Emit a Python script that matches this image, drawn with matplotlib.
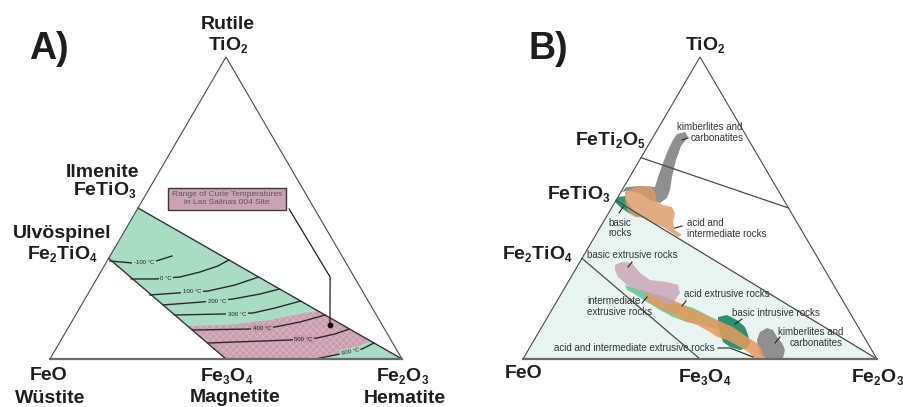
import numpy as np
import matplotlib
matplotlib.use("Agg")
import matplotlib.pyplot as plt
from matplotlib.patches import Polygon
from matplotlib.lines import Line2D
import matplotlib._mathtext as _mt

_mt.SHRINK_FACTOR = 0.6

plt.rcParams['font.family'] = ['Liberation Sans', 'DejaVu Sans']
plt.rcParams['mathtext.fontset'] = 'custom'
plt.rcParams['mathtext.rm'] = 'Liberation Sans'
plt.rcParams['mathtext.bf'] = 'Liberation Sans:bold'
plt.rcParams['mathtext.it'] = 'Liberation Sans:italic'
plt.rcParams['hatch.linewidth'] = 0.45

# ---------------------------------------------------------------------------
# DATA  (molar fractions; each point = (TiO2, Fe2O3); FeO = 1 - TiO2 - Fe2O3)
# ---------------------------------------------------------------------------
# Panel A: titanomagnetite - titanohematite field
band_tio2 = [1/3, 0.5, 0.0, 0.0]          # Fe2TiO4, FeTiO3, Fe2O3, Fe3O4
band_fe2o3 = [0.0, 0.0, 1.0, 0.5]

# range of Curie temperatures (pink) : upper and lower boundaries
pink_top_tio2 = [0.109, 0.113, 0.129, 0.149, 0.159]
pink_top_fe2o3 = [0.337, 0.455, 0.560, 0.636, 0.682]
pink_bot_tio2 = [0.000, 0.010, 0.030, 0.060]
pink_bot_fe2o3 = [0.696, 0.790, 0.837, 0.881]

# Curie isotherms
iso_labels = ['-100 °C', '0 °C', '100 °C', '200 °C', '300 °C', '400 °C', '500 °C', '600 °C']
iso_tio2 = [
    [0.3245, 0.318, 0.318, 0.341],
    [0.265, 0.265, 0.2715, 0.288, 0.308, 0.328],
    [0.212, 0.2185, 0.225, 0.245, 0.2715],
    [0.179, 0.1887, 0.1987, 0.2152, 0.2318],
    [0.1457, 0.149, 0.1523, 0.1689, 0.192],
    [0.096, 0.0993, 0.106, 0.1225, 0.1457],
    [0.053, 0.0629, 0.0695, 0.0828, 0.0993],
    [0.0, 0.0166, 0.0331, 0.053],
]
iso_fe2o3 = [
    [0.008, 0.074, 0.125, 0.176],
    [0.098, 0.166, 0.233, 0.282, 0.323, 0.344],
    [0.178, 0.252, 0.336, 0.403, 0.457],
    [0.2316, 0.3375, 0.4205, 0.489, 0.536],
    [0.282, 0.414, 0.5005, 0.5548, 0.616],
    [0.358, 0.5185, 0.586, 0.649, 0.709],
    [0.4225, 0.650, 0.724, 0.768, 0.801],
    [0.753, 0.8157, 0.8698, 0.894],
]
iso_label_tio2 = [0.318, 0.268, 0.222, 0.192, 0.149, 0.1026, 0.0662, 0.0232]
iso_label_fe2o3 = [0.108, 0.1955, 0.292, 0.378, 0.457, 0.551, 0.686, 0.841]
iso_label_rot = [0, 0, 0, 0, 0, 0, 0, 12]
iso_in_pink = [False, False, False, False, False, True, True, False]

# Las Salinas 004 site point and leader (box corner, knee, site)
site_tio2 = [0.4967, 0.2715, 0.1126]
site_fe2o3 = [0.431, 0.660, 0.739]

# Panel B: tie lines (start, end)
tie_tio2 = [[2/3, 0.5], [0.525, 0.0], [1/3, 0.0]]       # FeTi2O5-Fe2TiO5, FeTiO3-Fe2O3, Fe2TiO4-Fe3O4
tie_fe2o3 = [[0.0, 0.5], [0.0, 1.0], [0.0, 0.5]]
pale_tio2 = [0.0, 0.525, 0.0]
pale_fe2o3 = [0.0, 0.0, 1.0]

# rock fields
kimb_up_tio2 = [0.7252, 0.745, 0.7517, 0.7351, 0.7053, 0.659, 0.6026, 0.5596, 0.5331, 0.5166,
                0.5265, 0.5497, 0.5563, 0.553, 0.5695, 0.5728, 0.5695, 0.6026, 0.649, 0.692]
kimb_up_fe2o3 = [0.0611, 0.0625, 0.0818, 0.0986, 0.0937, 0.1027, 0.1196, 0.1355, 0.1402, 0.1287,
                 0.0956, 0.0557, 0.0185, 0.0032, 0.0062, 0.0441, 0.0881, 0.0801, 0.071, 0.0636]
acid_int_tio2 = [0.553, 0.5695, 0.5728, 0.553, 0.5199, 0.5099, 0.5033, 0.4834, 0.4536, 0.4272,
                 0.4106, 0.404, 0.4172, 0.4371, 0.4503, 0.4669, 0.4735, 0.4934, 0.5265]
acid_int_fe2o3 = [0.0116, 0.0372, 0.0724, 0.0964, 0.1185, 0.1405, 0.1692, 0.1877, 0.1969, 0.2158,
                  0.2439, 0.2359, 0.2123, 0.177, 0.142, 0.1056, 0.0739, 0.0471, 0.0249]
basic_tio2 = [0.5364, 0.5397, 0.5166, 0.4934, 0.4735, 0.4702, 0.4868, 0.5033, 0.5199]
basic_fe2o3 = [0.0, 0.0182, 0.0383, 0.064, 0.0937, 0.0869, 0.0504, 0.0223, 0.0]
bas_ext_tio2 = [0.3113, 0.3212, 0.3179, 0.2848, 0.2616, 0.255, 0.245, 0.2185, 0.1854, 0.1788,
                0.202, 0.2185, 0.2285, 0.245, 0.2715, 0.2947]
bas_ext_fe2o3 = [0.1043, 0.1191, 0.1489, 0.1881, 0.228, 0.2793, 0.3154, 0.3342, 0.331, 0.3174,
                 0.2775, 0.241, 0.2078, 0.1713, 0.1326, 0.1125]
int_ext_tio2 = [0.245, 0.2285, 0.2119, 0.1854, 0.1689, 0.1457, 0.1291, 0.106,
                0.096, 0.1126, 0.1225, 0.1391, 0.1623, 0.1887, 0.2185, 0.2285]
int_ext_fe2o3 = [0.1656, 0.2163, 0.281, 0.3423, 0.3958, 0.447, 0.4834, 0.5035,
                 0.5, 0.4522, 0.402, 0.3542, 0.3059, 0.2559, 0.2014, 0.1796]
acid_ext_tio2 = [0.2185, 0.202, 0.1854, 0.1623, 0.1391, 0.1291, 0.106, 0.0728, 0.053, 0.0298, 0.0,
                 0.0, 0.0199, 0.0397, 0.0629, 0.0728, 0.0894, 0.1126, 0.1291, 0.1523, 0.1722, 0.1887]
acid_ext_fe2o3 = [0.2353, 0.3058, 0.3508, 0.3991, 0.4587, 0.4834, 0.5402, 0.5964, 0.6345, 0.6602, 0.6808,
                  0.6525, 0.6312, 0.5931, 0.5448, 0.5116, 0.4835, 0.4352, 0.3874, 0.3391, 0.2924, 0.2587]
bas_int_tio2 = [0.1391, 0.1457, 0.1291, 0.106, 0.0795, 0.053, 0.0364, 0.0298, 0.0397, 0.0563, 0.0861, 0.1126]
bas_int_fe2o3 = [0.4813, 0.5035, 0.5399, 0.5741, 0.5959, 0.6147, 0.6146, 0.5981, 0.5648, 0.5369, 0.5135, 0.4945]
kimb_lo_tio2 = [0.0894, 0.1026, 0.096, 0.0728, 0.053, 0.0298, 0.0033, 0.0, 0.0, 0.0132, 0.0397, 0.0629]
kimb_lo_fe2o3 = [0.6248, 0.638, 0.6582, 0.6811, 0.7051, 0.7252, 0.7328, 0.7175, 0.6893, 0.6629, 0.6439, 0.6295]

# ---------------------------------------------------------------------------
W, H = 904, 407
SQ = np.sqrt(3) / 2


def tern(t, h):
    t = np.asarray(t, float)
    h = np.asarray(h, float)
    return h + t / 2, t * SQ


def tri_axes(fig, ax_left_px, ax_w_px, x0px, x1px, top_px=57, bot_px=359):
    ax = fig.add_axes([ax_left_px / W, 0, ax_w_px / W, 1])
    sx = x1px - x0px
    sy = (bot_px - top_px) / SQ
    ax.set_xlim((ax_left_px - x0px) / sx, (ax_left_px + ax_w_px - x0px) / sx)
    ax.set_ylim(-(H - bot_px) / sy, bot_px / sy)
    ax.axis('off')
    return ax


def poly(ax, t, h, **kw):
    x, y = tern(t, h)
    p = Polygon(np.column_stack([x, y]), closed=True, **kw)
    ax.add_patch(p)
    return p


def line(ax, t, h, **kw):
    x, y = tern(t, h)
    ax.plot(x, y, **kw)


def ptxt(px, py, s, **kw):
    return fig.text(px / W, 1 - py / H, s, **kw)


def pline(xs, ys, **kw):
    fig.add_artist(Line2D(np.array(xs) / W, 1 - np.array(ys) / H, transform=fig.transFigure, **kw))


fig = plt.figure(figsize=(W / 100, H / 100), dpi=100)
fig.patch.set_facecolor('white')

EDGE = '#4a4a4a'
GREEN_A = '#a9dcc4'
PINK_A = '#c99cae'

# ----------------------------- Panel A -------------------------------------
axA = tri_axes(fig, 0, 452, 50, 402)
poly(axA, band_tio2, band_fe2o3, facecolor=GREEN_A, edgecolor='none', zorder=1)
pt = list(pink_top_tio2) + list(pink_bot_tio2[::-1]) + [0.0]
ph = list(pink_top_fe2o3) + list(pink_bot_fe2o3[::-1]) + [0.5]
poly(axA, pt, ph, facecolor=PINK_A, edgecolor='#dbbcc8', hatch='xxxxx', lw=0, zorder=2)
for k in range(len(iso_labels)):
    line(axA, iso_tio2[k], iso_fe2o3[k], color='#2a2a2a', lw=1.0, zorder=3)
    x, y = tern(iso_label_tio2[k], iso_label_fe2o3[k])
    axA.text(x, y, iso_labels[k], fontsize=4.3, color='#222222', ha='center', va='center',
             rotation=iso_label_rot[k], zorder=4,
             bbox=dict(boxstyle='square,pad=0.25', fc=PINK_A if iso_in_pink[k] else GREEN_A, ec='none'))
# band outline
line(axA, [band_tio2[1], band_tio2[2]], [band_fe2o3[1], band_fe2o3[2]], color='#333333', lw=1.0, zorder=5)
line(axA, [band_tio2[0], band_tio2[3]], [band_fe2o3[0], band_fe2o3[3]], color='#333333', lw=1.0, zorder=5)
# triangle
line(axA, [0, 1, 0], [1, 0, 0], color=EDGE, lw=0.8, zorder=5)
line(axA, [0, 0], [0, 1], color='#6a6a6a', lw=1.6, zorder=5)
# site and leader
line(axA, site_tio2, site_fe2o3, color='#222222', lw=0.9, zorder=6)
sx_, sy_ = tern(site_tio2[-1], site_fe2o3[-1])
axA.plot(sx_, sy_, 'o', ms=3.2, color='#111111', zorder=7)
ptxt(227, 198.5, 'Range of Curie Temperatures\nin Las Salinas 004 Site', fontsize=6.0,
     color='#5a5a5a', ha='center', va='center', linespacing=1.1, zorder=8,
     bbox=dict(boxstyle='square,pad=0.45', fc='#c9a2b3', ec='#3a3a3a', lw=1.0))

BIG = dict(fontsize=14, color='#1e1e1e', ha='center', va='baseline')
ptxt(49, 59, 'A)', fontsize=27, fontweight='bold', color='#1e1e1e', ha='center', va='baseline')
ptxt(228, 29, 'Rutile', fontweight='bold', **BIG)
ptxt(228, 50, r'$\mathbf{TiO_2}$', **BIG)
ptxt(103, 177, 'Ilmenite', fontweight='bold', **BIG)
ptxt(105, 195, r'$\mathbf{FeTiO_3}$', **BIG)
ptxt(62, 238, 'Ulvöspinel', fontweight='bold', **BIG)
ptxt(62, 259, r'$\mathbf{Fe_2TiO_4}$', **BIG)
ptxt(49, 380, 'FeO', fontweight='bold', **BIG)
ptxt(50, 403, 'Wüstite', fontweight='bold', **BIG)
ptxt(227, 381, r'$\mathbf{Fe_3O_4}$', **BIG)
ptxt(235, 402, 'Magnetite', fontweight='bold', **BIG)
ptxt(403, 381, r'$\mathbf{Fe_2O_3}$', **BIG)
ptxt(405, 403, 'Hematite', fontweight='bold', **BIG)

# ----------------------------- Panel B -------------------------------------
axB = tri_axes(fig, 452, 452, 523, 877)
poly(axB, pale_tio2, pale_fe2o3, facecolor='#e9f4f1', edgecolor='none', zorder=1)
for k in range(len(tie_tio2)):
    line(axB, tie_tio2[k], tie_fe2o3[k], color=EDGE, lw=0.9, zorder=6)
line(axB, [0, 1, 0], [1, 0, 0], color=EDGE, lw=0.8, zorder=6)
line(axB, [0, 0], [0, 1], color='#6a6a6a', lw=1.6, zorder=6)

poly(axB, basic_tio2, basic_fe2o3, facecolor='#2f9676', edgecolor='none', zorder=2)
poly(axB, kimb_up_tio2, kimb_up_fe2o3, facecolor='#8f8f8f', edgecolor='none', zorder=3)
poly(axB, acid_int_tio2, acid_int_fe2o3, facecolor='#dc9a68', edgecolor='none', alpha=0.82, zorder=4)

poly(axB, int_ext_tio2, int_ext_fe2o3, facecolor='#74c9a0', edgecolor='none', zorder=2)
poly(axB, bas_int_tio2, bas_int_fe2o3, facecolor='#2f9070', edgecolor='none', zorder=2.5)
poly(axB, kimb_lo_tio2, kimb_lo_fe2o3, facecolor='#8f8f8f', edgecolor='none', zorder=2.6)
poly(axB, acid_ext_tio2, acid_ext_fe2o3, facecolor='#e89a5c', edgecolor='none', alpha=0.85, zorder=3)
poly(axB, bas_ext_tio2, bas_ext_fe2o3, facecolor='#c6a2b4', edgecolor='none', alpha=0.8, zorder=4)

ptxt(548, 59, 'B)', fontsize=27, fontweight='bold', color='#1e1e1e', ha='center', va='baseline')
ptxt(705, 50, r'$\mathbf{TiO_2}$', **BIG)
ptxt(610, 145, r'$\mathbf{FeTi_2O_5}$', **BIG)
ptxt(579, 199, r'$\mathbf{FeTiO_3}$', **BIG)
ptxt(537, 259, r'$\mathbf{Fe_2TiO_4}$', **BIG)
ptxt(524, 378, 'FeO', fontweight='bold', **BIG)
ptxt(705, 382, r'$\mathbf{Fe_3O_4}$', **BIG)
ptxt(878, 382, r'$\mathbf{Fe_2O_3}$', **BIG)

SM = dict(fontsize=7, color='#333333', va='center', zorder=9)
ptxt(710, 127, 'kimberlites and', ha='center', **SM)
ptxt(717, 138, 'carbonatites', ha='center', **SM)
ptxt(620, 223, 'basic', ha='center', **SM)
ptxt(620, 233, 'rocks', ha='center', **SM)
ptxt(687, 223, 'acid and', ha='left', **SM)
ptxt(687, 234, 'intermediate rocks', ha='left', **SM)
ptxt(632, 255, 'basic extrusive rocks', ha='center', **SM)
ptxt(727, 294, 'acid extrusive rocks', ha='center', **SM)
ptxt(587, 301, 'intermediate', ha='left', **SM)
ptxt(587, 312, 'extrusive rocks', ha='left', **SM)
ptxt(776, 313, 'basic intrusive rocks', ha='center', **SM)
ptxt(843, 332, 'kimberlites and', ha='right', **SM)
ptxt(843, 343, 'carbonatites', ha='right', **SM)
ptxt(634, 348, 'acid and intermediate extrusive rocks', ha='center', **SM)

LD = dict(color='#222222', lw=0.8, zorder=10)
pline([682, 688], [140, 138], **LD)
pline([619, 623], [213, 207], **LD)
pline([675, 682], [228, 226], **LD)
pline([628, 632], [267, 262], **LD)
pline([682, 686], [306, 301], **LD)
pline([642, 647], [303, 297], **LD)
pline([735, 742], [324, 319], **LD)
pline([775, 780], [343, 337], **LD)
pline([718, 730, 753], [348, 348, 357], **LD)

fig.savefig('out.png', dpi=100)
